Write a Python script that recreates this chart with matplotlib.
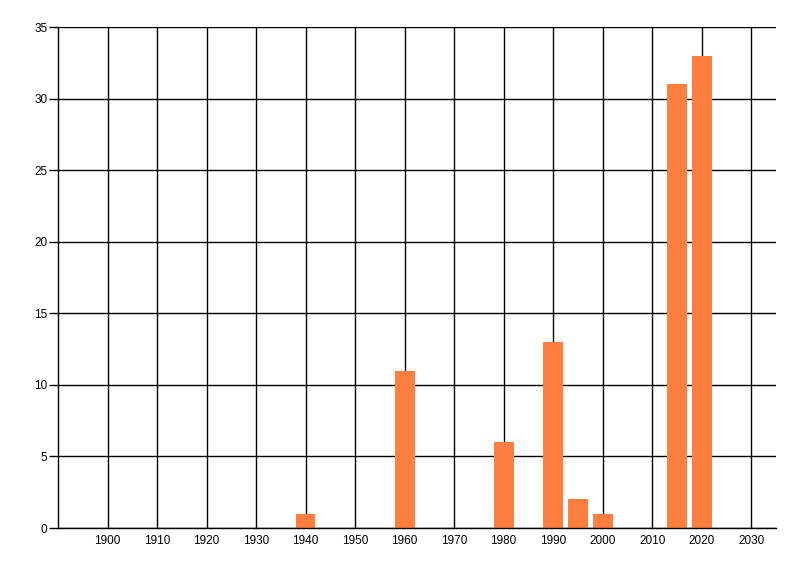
import matplotlib
matplotlib.use("Agg")
import matplotlib.pyplot as plt

# data
years = [1940, 1960, 1980, 1990, 1995, 2000, 2015, 2020]
counts = [1, 11, 6, 13, 2, 1, 31, 33]
xticks = list(range(1900, 2031, 10))
yticks = list(range(0, 36, 5))

plt.rcParams['font.family'] = ['Liberation Sans', 'DejaVu Sans']

fig = plt.figure(figsize=(8, 5.76), dpi=100)
ax = fig.add_axes([0.0725, 0.0833, 0.8975, 0.8697])

ax.bar(years, counts, width=4, color="#FF7F40", zorder=3)

ax.set_xlim(1890, 2035)
ax.set_ylim(0, 35)
ax.set_xticks(xticks)
ax.set_yticks(yticks)
ax.grid(True, color="black", linewidth=1, zorder=0)
ax.set_axisbelow(True)

for s in ["top", "right"]:
    ax.spines[s].set_visible(False)
for s in ["left", "bottom"]:
    ax.spines[s].set_linewidth(1)
    ax.spines[s].set_zorder(4)

ax.tick_params(axis="x", length=0, pad=5, labelsize=8.5)
ax.tick_params(axis="y", length=6.5, width=1, pad=1, labelsize=8.5)

fig.savefig("out.png", dpi=100)
